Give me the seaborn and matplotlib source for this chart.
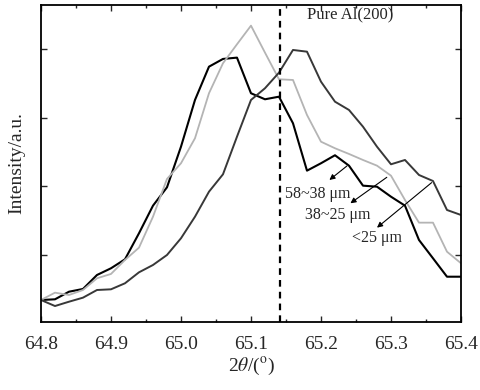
import numpy as np
import pandas as pd
import matplotlib
matplotlib.use("Agg")
import matplotlib.pyplot as plt
from matplotlib.ticker import MultipleLocator
import seaborn as sns

# 2-theta positions (degrees)
two_theta = [64.80, 64.82, 64.84, 64.86, 64.88, 64.90, 64.92, 64.94, 64.96, 64.98,
             65.00, 65.02, 65.04, 65.06, 65.08, 65.10, 65.12, 65.14, 65.16, 65.18,
             65.20, 65.22, 65.24, 65.26, 65.28, 65.30, 65.32, 65.34, 65.36, 65.38, 65.40]

# Intensities (a.u.)
int_58_38 = [343, 353, 464, 504, 708, 806, 937, 1317, 1720, 1988,
             2581, 3263, 3749, 3862, 3881, 3361, 3273, 3311, 2923, 2231,
             2339, 2456, 2304, 2012, 1997, 1851, 1720, 1219, 952, 683, 683]
int_38_25 = [343, 450, 416, 489, 660, 723, 927, 1107, 1559, 2110,
             2339, 2704, 3361, 3799, 4076, 4348, 3954, 3565, 3555, 3044,
             2654, 2558, 2475, 2387, 2304, 2158, 1803, 1472, 1472, 1048, 879]
int_lt25 = [343, 255, 318, 377, 489, 499, 587, 747, 854, 1000,
            1244, 1559, 1924, 2178, 2727, 3263, 3434, 3662, 3993, 3968,
            3530, 3238, 3117, 2873, 2581, 2324, 2387, 2168, 2080, 1657, 1584]

series_names = ["58~38 μm", "38~25 μm", "<25 μm"]
series_colors = ["#000000", "#b4b4b4", "#383838"]
series_widths = [1.5, 1.3, 1.4]

ref_peak = 65.142  # Pure Al(200)
y_ticks = [1000, 2000, 3000, 4000]

df = pd.DataFrame({
    "two_theta": two_theta * 3,
    "intensity": int_58_38 + int_38_25 + int_lt25,
    "size": [series_names[0]] * len(two_theta) + [series_names[1]] * len(two_theta)
            + [series_names[2]] * len(two_theta),
})

sns.set_theme(style="ticks")
plt.rcParams["font.family"] = ["Liberation Serif", "DejaVu Serif"]
plt.rcParams["mathtext.fontset"] = "stix"

fig = plt.figure(figsize=(4.81, 3.90), dpi=100)
ax = fig.add_axes([0.0852, 0.1751, 0.8732, 0.8129])

for name, c, lw in zip(series_names, series_colors, series_widths):
    sub = df[df["size"] == name]
    sns.lineplot(data=sub, x="two_theta", y="intensity", color=c, linewidth=lw,
                 ax=ax, legend=False, estimator=None, sort=False)

ax.axvline(ref_peak, color="black", linestyle=(0, (3, 2.3)), linewidth=1.6)

ax.set_xlim(64.8, 65.4)
ax.set_ylim(26, 4654)
ax.set_xticks([64.8, 64.9, 65.0, 65.1, 65.2, 65.3, 65.4])
ax.set_xticklabels(["64.8", "64.9", "65.0", "65.1", "65.2", "65.3", "65.4"])
ax.xaxis.set_minor_locator(MultipleLocator(0.05))
ax.set_yticks(y_ticks)
ax.set_yticklabels([])
ax.tick_params(axis="both", which="both", direction="in", top=True, right=True)
ax.tick_params(axis="both", which="major", length=4, width=1.0, labelsize=14)
ax.tick_params(axis="x", which="major", pad=10)
ax.tick_params(axis="x", which="minor", length=2.5, width=1.0)
for sp in ax.spines.values():
    sp.set_linewidth(1.3)
    sp.set_color("black")

ax.set_xlabel(r"2$\theta$/($^{\mathrm{o}}$)", fontsize=14, labelpad=2)
ax.set_ylabel("Intensity/a.u.", fontsize=14, labelpad=8)

ax.text(65.1796, 4519, "Pure Al(200)", fontsize=12, va="center", ha="left")

arrows = [((65.237, 2299), (65.212, 2095)),
          ((65.294, 2134), (65.242, 1755)),
          ((65.358, 2056), (65.280, 1399))]
for (s, e) in arrows:
    ax.annotate("", xy=e, xytext=s,
                arrowprops=dict(arrowstyle="-|>", color="black", lw=0.8,
                                mutation_scale=8, shrinkA=0, shrinkB=0))

ax.text(65.1486, 1891, series_names[0], fontsize=11.5, va="center", ha="left")
ax.text(65.177, 1584, series_names[1], fontsize=11.5, va="center", ha="left")
ax.text(65.244, 1248, series_names[2], fontsize=11.5, va="center", ha="left")

fig.savefig("out.png", dpi=100)
